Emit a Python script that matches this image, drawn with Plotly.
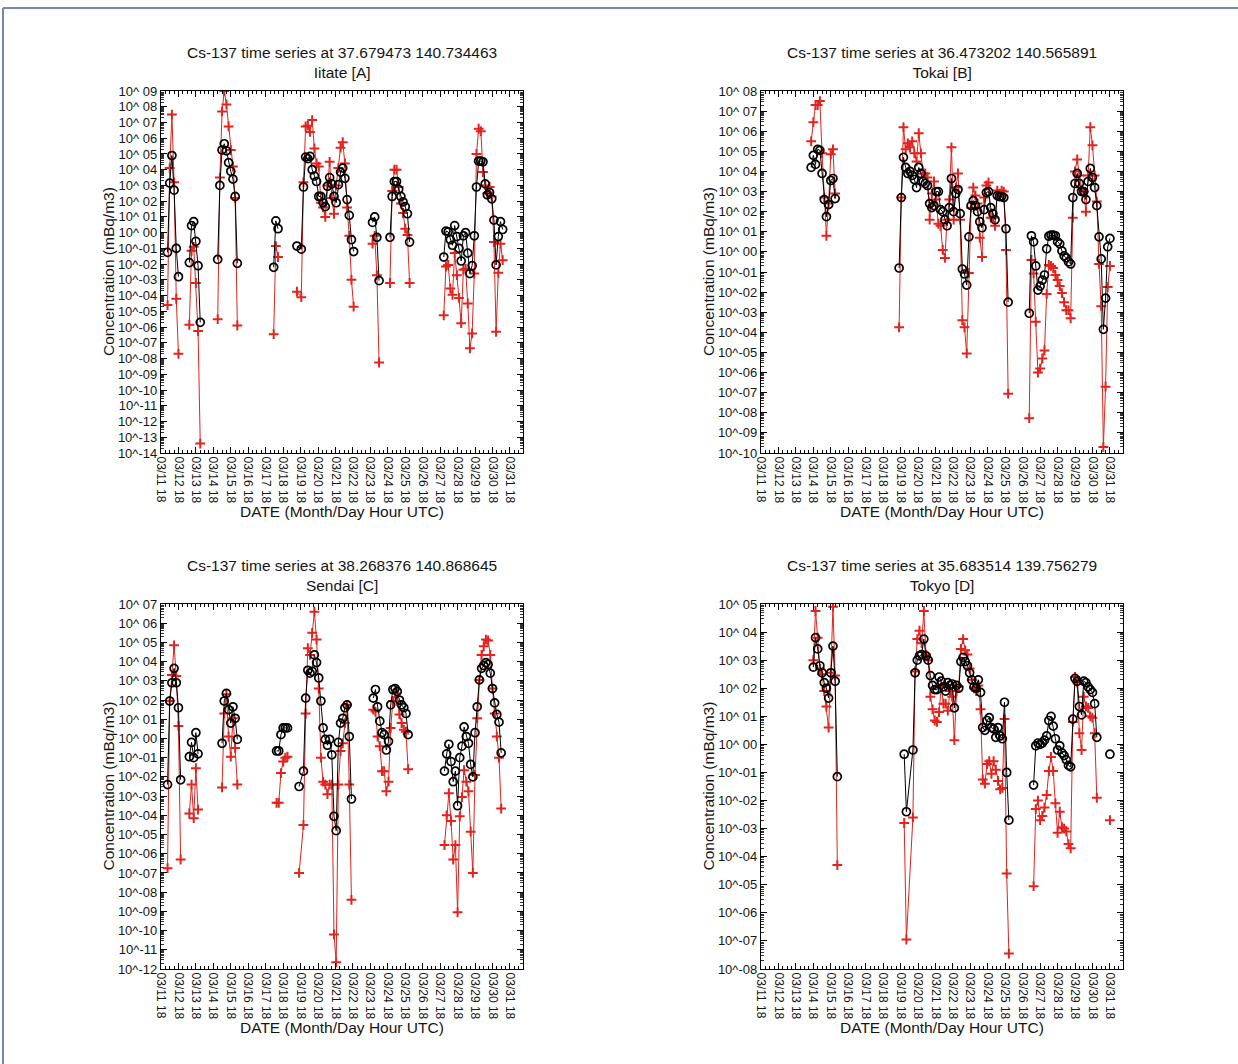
import pandas as pd
import plotly.graph_objects as go

W, H = 1238, 1064
BASE_TIME = pd.Timestamp("2011-03-11 18:00")
X_RANGE = ["2011-03-11 18:00", "2011-04-01 12:00"]
X_TITLE = "DATE (Month/Day Hour UTC)"
Y_TITLE = "Concentration (mBq/m3)"

# ---------------- Panel A : Iitate ----------------
A_TITLE = "Cs-137 time series at 37.679473 140.734463<br>Iitate [A]"
A_DECADES = [-14, 9]
A_HOURS = [
    [9, 12, 15, 18, 21, 24],
    [39, 42, 45, 48, 51, 54],
    [78, 81, 84, 87, 90, 93, 96, 99, 102, 105],
    [155, 158, 161],
    [187, 193, 196, 199, 202, 205, 208, 211, 214, 217, 220, 223, 226, 229, 232, 235, 238, 241, 244,
     247, 250, 253, 256, 259, 262, 265],
    [291, 294, 297, 300],
    [315, 318, 321, 324, 327, 330, 333, 336, 339, 342],
    [389, 392, 395, 398, 401, 404, 407, 410, 413, 416, 419, 422, 425, 428, 431, 434, 437, 440, 443,
     446, 449, 452, 455, 458, 461, 464, 467, 470],
]
A_BLACK = [
    [-1.25, 3.15, 4.9, 2.7, -1.0, -2.8],
    [-1.9, 0.45, 0.7, -0.55, -2.1, -5.7],
    [-1.7, 3.0, 5.25, 5.65, 5.2, 4.45, 3.9, 3.4, 2.3, -1.95],
    [-2.2, 0.75, 0.25],
    [-0.85, -1.05, 2.9, 4.8, 4.7, 4.85, 4.0, 3.6, 3.25, 2.3, 2.3, 1.9, 1.65, 2.95, 3.5, 3.1, 2.3, 1.9,
     3.05, 3.85, 4.1, 3.45, 2.1, 1.1, -0.45, -1.2],
    [0.65, 1.0, -0.3, -3.05],
    [-0.3, 2.3, 3.25, 3.25, 2.75, 2.3, 1.95, 1.65, 1.2, -0.6],
    [-1.55, 0.1, 0.05, -0.45, -0.8, 0.45, -0.25, -1.0, -1.8, -0.2, 0.0, -1.3, -2.6, -2.1, -0.2, 2.9,
     4.55, 4.55, 4.5, 3.1, 2.4, 2.55, 2.15, 0.8, -2.05, -0.25, 0.7, 0.2],
]
A_RED = [
    [-4.6, 4.1, 7.5, 3.2, -4.2, -7.7],
    [-5.85, -1.15, -0.9, -3.2, -6.25, -13.4],
    [-5.5, 3.5, 7.7, 9.0, 8.15, 6.75, 5.25, 4.2, 2.2, -5.9],
    [-6.45, -0.85, -1.55],
    [-3.75, -4.1, 3.2, 6.75, 6.8, 6.4, 7.15, 5.35, 4.4, 4.2, 1.9, 1.6, 1.0, 3.0, 4.5, 2.2, 1.2, 3.0,
     4.1, 5.4, 5.75, 4.4, 1.6, -0.2, -3.0, -4.7],
    [-0.7, -0.2, -2.7, -8.25],
    [-3.2, 2.65, 4.0, 4.0, 2.9, 1.85, 1.25, 0.25, -0.15, -3.2],
    [-5.25, -2.15, -2.05, -3.55, -3.95, -1.3, -2.7, -4.15, -5.75, -2.35, -2.3, -4.5, -7.35, -6.4,
     -2.6, 5.0, 6.6, 6.45, 3.85, 3.0, 2.5, 2.9, 2.3, -0.6, -6.3, -2.55, -0.7, -1.75],
]

# ---------------- Panel B : Tokai ----------------
B_TITLE = "Cs-137 time series at 36.473202 140.565891<br>Tokai [B]"
B_DECADES = [-10, 8]
B_HOURS = [
    [69, 72, 75, 78, 81, 84, 87, 90, 93, 96, 99, 102],
    [190, 193, 196, 199, 202, 205, 208, 211, 214, 217, 220, 223, 226, 229, 232, 235, 238, 241, 244,
     247, 250, 253, 256, 259, 262, 265, 268, 271, 274, 277, 280, 283, 286, 289, 292, 295, 298, 301,
     304, 307, 310, 313, 316, 319, 322, 325, 328, 331, 334, 337, 340],
    [369, 372, 375, 378, 381, 384, 387, 390, 393, 396, 399, 402, 405, 408, 411, 414, 417, 420, 423,
     426, 429, 432, 435, 438, 441, 444, 447, 450, 453, 456, 459, 462, 465, 468, 471, 474, 477, 480],
]
B_BLACK = [
    [4.2, 4.8, 4.35, 5.1, 5.05, 3.9, 2.6, 1.75, 2.35, 3.55, 3.65, 2.65],
    [-0.8, 2.7, 4.7, 4.2, 3.9, 4.0, 3.8, 3.6, 3.2, 4.2, 3.9, 3.5, 3.4, 3.3, 2.4, 2.2, 2.3, 3.0, 3.0,
     2.1, 2.0, 1.6, 1.3, 2.2, 3.65, 2.0, 2.9, 3.1, 1.9, -0.85, -1.1, -1.65, 0.75, 2.3, 2.55, 2.3,
     2.0, 1.5, 1.2, 2.1, 2.95, 3.0, 2.2, 1.9, 1.6, 2.8, 2.75, 2.75, 2.7, 1.15, -2.5],
    [-3.05, 0.8, 0.5, -0.7, -1.9, -1.7, -1.4, -1.15, 0.15, 0.78, 0.83, 0.83, 0.8, 0.5, 0.4, 0.05,
     -0.2, -0.3, -0.5, -0.6, 2.7, 3.4, 3.9, 3.4, 3.0, 3.0, 2.6, 3.5, 4.15, 3.7, 3.2, 2.3, 0.75,
     -0.35, -3.85, -2.3, 0.25, 0.67],
]
B_RED = [
    [5.5, 6.45, 7.3, 7.3, 7.5, 4.9, 2.7, 0.8, 2.4, 4.85, 5.1, 2.9],
    [-3.75, 2.7, 6.2, 5.1, 5.4, 5.2, 5.5, 4.9, 4.5, 5.9, 4.9, 3.9, 3.9, 3.7, 1.6, 2.9, 3.5, 2.6, 1.4,
     1.3, 0.1, -0.3, 1.6, 2.6, 5.2, 1.6, 3.2, 3.9, 1.6, -3.4, -3.75, -5.05, -1.05, 2.2, 3.2, 2.8,
     2.4, 0.7, -0.25, 2.7, 3.3, 3.45, 1.7, 1.7, 1.3, 3.05, 2.9, 3.05, 3.0, 0.1, -7.05],
    [-8.27, -0.4, -1.07, -3.47, -6.0, -5.8, -5.3, -4.9, -2.1, -0.65, -0.7, -0.8, -1.15, -1.4, -1.7,
     -2.05, -2.5, -2.9, -2.9, -3.3, 1.7, 4.0, 4.6, 3.8, 3.1, 3.0, 2.0, 3.8, 6.2, 5.3, 3.8, 2.5,
     -0.6, -2.7, -9.7, -6.7, -1.74, -0.7],
]

# ---------------- Panel C : Sendai ----------------
C_TITLE = "Cs-137 time series at 38.268376 140.868645<br>Sendai [C]"
C_DECADES = [-12, 7]
C_HOURS = [
    [9, 12, 15, 18, 21, 24, 27],
    [39, 42, 45, 48, 51],
    [84, 87, 90, 93, 96, 99, 102, 105],
    [159, 162, 165, 168, 171, 174],
    [190, 196, 199, 202, 205, 208, 211, 214, 217, 220, 223, 226, 229, 232, 235, 238, 241, 244, 247,
     250, 253, 256, 259, 262],
    [292, 295, 298, 301, 304, 307, 310, 313, 316, 319, 322, 325, 328, 331, 334, 337, 340],
    [390, 393, 396, 399, 402, 405, 408, 411, 414, 417, 420, 423, 426, 429, 432, 435, 438, 441, 444,
     447, 450, 453, 456, 459, 462, 465, 468],
]
C_BLACK = [
    [-2.4, 1.95, 2.9, 3.65, 2.9, 1.6, -2.15],
    [-0.95, -0.2, -1.0, 0.3, -0.8],
    [-0.25, 1.95, 2.35, 1.5, 0.8, 1.65, 1.05, -0.05],
    [-0.65, -0.65, 0.2, 0.55, 0.55, 0.55],
    [-2.5, -1.7, 2.1, 3.55, 3.4, 3.5, 4.35, 3.95, 3.15, 1.95, 0.55, -0.05, -0.35, -0.05, -0.85,
     -4.05, -4.8, -0.2, 0.8, 1.05, 1.6, 1.75, 0.1, -3.15],
    [2.1, 2.55, 1.65, 0.9, 0.3, 0.2, -0.6, -0.15, 1.75, 2.55, 2.6, 2.45, 2.0, 1.75, 1.6, 1.3, 0.2],
    [-1.7, -0.8, -0.3, -1.2, -2.25, -1.7, -3.5, -1.0, -0.4, 0.6, 0.1, -0.25, -1.35, -2.0, 0.3, 1.65,
     3.05, 3.65, 3.8, 3.95, 3.85, 3.4, 2.6, 1.85, 1.25, 0.85, -0.75],
]
C_RED = [
    [-6.75, 1.95, 3.3, 4.85, 3.25, 0.65, -6.3],
    [-3.9, -2.4, -4.15, -1.55, -3.7],
    [-2.55, 1.3, 2.3, 0.1, -0.95, 1.05, -0.5, -2.4],
    [-3.35, -3.35, -1.8, -1.2, -1.0, -0.95],
    [-7.0, -4.5, 1.3, 4.7, 4.35, 5.5, 6.6, 5.15, 2.6, -1.0, -2.25, -2.4, -2.9, -2.4, -2.4, -10.2,
     -11.65, -2.4, -0.65, -0.25, 0.8, 1.75, -2.4, -8.4],
    [1.5, 1.4, 0.1, -0.4, -1.7, -1.7, -2.75, -2.25, 0.55, 1.95, 2.35, 1.95, 1.25, 0.8, 0.45, 0.35,
     -1.6],
    [-5.55, -4.0, -2.85, -4.3, -6.3, -5.55, -9.05, -4.05, -3.05, -1.65, -2.25, -2.75, -4.85, -7.0,
     -1.9, 1.05, 3.05, 4.35, 4.8, 5.15, 5.1, 4.35, 2.6, 1.3, 0.1, -1.0, -3.65],
]

# ---------------- Panel D : Tokyo ----------------
D_TITLE = "Cs-137 time series at 35.683514 139.756279<br>Tokyo [D]"
D_DECADES = [-8, 5]
D_HOURS = [
    [72, 75, 78, 81, 84, 87, 90, 93, 96, 99, 102, 105],
    [197, 200, 209, 212, 215, 218, 221, 224, 227, 230, 233, 236, 239, 242, 245, 248, 251, 254, 257,
     260, 263, 266, 269, 272, 275, 278, 281, 284, 287, 290, 293, 296, 299, 302, 305, 308, 311, 314,
     317, 320, 323, 326, 329, 332, 335, 338, 341],
    [375, 378, 381, 384, 387, 390, 393, 396, 399, 402, 405, 408, 411, 414, 417, 420, 423, 426, 429,
     432, 435, 438, 441, 444, 447, 450, 453, 456, 459, 462],
    [480],
]
D_BLACK = [
    [2.75, 3.8, 3.4, 2.8, 2.55, 2.2, 2.0, 1.65, 2.55, 3.5, 2.25, -1.15],
    [-0.35, -2.4, -0.2, 2.55, 3.0, 3.15, 3.2, 3.75, 3.15, 3.0, 2.45, 2.1, 1.95, 1.95, 2.4, 2.25,
     2.05, 1.9, 2.2, 2.1, 2.15, 1.3, 2.1, 2.0, 2.95, 3.1, 2.95, 2.8, 2.55, 2.3, 2.05, 2.0, 2.3, 1.85,
     0.6, 0.5, 0.85, 0.95, 0.6, 0.55, 0.25, 0.6, 0.3, 0.2, 1.5, -1.0, -2.7],
    [-1.45, -0.05, 0.05, 0.0, 0.05, 0.15, 0.3, 0.85, 1.0, 0.65, 0.2, -0.2, -0.05, -0.3, -0.4, -0.55,
     -0.75, -0.8, 0.9, 2.35, 2.25, 1.35, 1.05, 2.25, 2.2, 2.05, 1.95, 1.85, 1.45, 0.25],
    [-0.35],
]
D_RED = [
    [3.0, 4.75, 3.8, 2.7, 2.5, 1.9, 1.35, 0.6, 2.55, 4.9, 2.45, -4.3],
    [-2.8, -6.95, -2.6, 2.6, 3.75, 4.05, 3.6, 4.75, 3.2, 3.0, 1.7, 1.25, 0.85, 0.8, 1.15, 2.05, 1.45,
     1.45, 1.2, 1.9, 1.7, 0.15, 1.9, 2.05, 3.4, 3.75, 3.35, 3.2, 2.7, 2.3, 2.0, 1.9, 2.1, 1.25,
     -1.25, -1.4, -0.7, -0.6, -1.05, -0.6, -0.9, -1.3, -1.6, -1.55, 0.9, -4.6, -7.45],
    [-5.05, -2.3, -2.0, -2.7, -2.55, -2.25, -1.8, -0.95, -0.45, -0.95, -2.1, -3.15, -2.4, -2.95,
     -3.0, -3.1, -3.55, -3.7, 0.8, 2.4, 2.2, 0.4, -0.2, 1.7, 1.35, 1.3, 1.0, 0.95, 0.4, -1.9],
    [-2.7],
]

PANELS = [
    dict(title=A_TITLE, dec=A_DECADES, hours=A_HOURS, black=A_BLACK, red=A_RED,
         px=(161, 523), py=(91, 453)),
    dict(title=B_TITLE, dec=B_DECADES, hours=B_HOURS, black=B_BLACK, red=B_RED,
         px=(761, 1123), py=(91, 453)),
    dict(title=C_TITLE, dec=C_DECADES, hours=C_HOURS, black=C_BLACK, red=C_RED,
         px=(161, 523), py=(604, 969)),
    dict(title=D_TITLE, dec=D_DECADES, hours=D_HOURS, black=D_BLACK, red=D_RED,
         px=(761, 1123), py=(604, 969)),
]

RED = "#e2231e"
FONT = "Liberation Sans, Arial, Helvetica, sans-serif"
TEXT = "#151515"


def join_groups(groups, conv):
    out = []
    for i, g in enumerate(groups):
        if i:
            out.append(None)
        out.extend(conv(v) for v in g)
    return out


def to_time(h):
    return BASE_TIME + pd.Timedelta(hours=h)


def to_val(e):
    return 10 ** e


def ylabel(k):
    return f"10^ {k:02d}" if k >= 0 else f"10^-{-k:02d}"


fig = go.Figure()
annotations = []
layout = {}

for i, p in enumerate(PANELS, start=1):
    xa = "x" if i == 1 else f"x{i}"
    ya = "y" if i == 1 else f"y{i}"
    xs = join_groups(p["hours"], to_time)
    fig.add_trace(go.Scatter(
        x=xs, y=join_groups(p["red"], to_val), xaxis=xa, yaxis=ya, mode="lines+markers",
        line=dict(color=RED, width=1), connectgaps=False, showlegend=False,
        marker=dict(symbol="cross-thin", size=7, color=RED, line=dict(color=RED, width=2))))
    fig.add_trace(go.Scatter(
        x=xs, y=join_groups(p["black"], to_val), xaxis=xa, yaxis=ya, mode="lines+markers",
        line=dict(color="black", width=1), connectgaps=False, showlegend=False,
        marker=dict(symbol="circle-open", size=8, color="black", line=dict(color="black", width=1.7))))

    lo, hi = p["dec"]
    exps = list(range(lo, hi + 1))
    minor_vals = [m * 10 ** k for k in range(lo, hi) for m in range(2, 10)]
    x0, x1 = p["px"]
    y0, y1 = p["py"]
    xkey = "xaxis" if i == 1 else f"xaxis{i}"
    ykey = "yaxis" if i == 1 else f"yaxis{i}"
    layout[xkey] = dict(
        domain=[x0 / W, x1 / W], anchor=ya, type="date", range=X_RANGE,
        tick0="2011-03-11 18:00", dtick=86400000, tickformat="%m/%d %H", tickangle=90,
        ticks="inside", ticklen=6, tickwidth=1, tickcolor="black",
        minor=dict(ticks="inside", ticklen=3, tickwidth=1, tickcolor="black",
                   dtick=6 * 3600000, tick0="2011-03-11 18:00", showgrid=False),
        showline=True, linecolor="black", linewidth=1.3, mirror="allticks",
        showgrid=False, zeroline=False, automargin=False,
        tickfont=dict(family=FONT, size=12, color=TEXT))
    layout[ykey] = dict(
        domain=[1 - y1 / H, 1 - y0 / H], anchor=xa, type="log", range=[lo, hi],
        tickmode="array", tickvals=[10 ** k for k in exps], ticktext=[ylabel(k) for k in exps],
        ticks="inside", ticklen=6, tickwidth=1, tickcolor="black",
        minor=dict(ticks="inside", ticklen=3, tickwidth=0.8, tickcolor="#333",
                   tickvals=minor_vals, showgrid=False),
        showline=True, linecolor="black", linewidth=1.3, mirror="allticks",
        showgrid=False, zeroline=False, automargin=False,
        tickfont=dict(family=FONT, size=13, color=TEXT))

    cx = (x0 + x1) / 2 / W
    annotations.append(dict(text=p["title"], x=cx, y=1 - (y0 - 29) / H, xref="paper", yref="paper",
                            xanchor="center", yanchor="middle", showarrow=False,
                            font=dict(family=FONT, size=15.5, color=TEXT)))
    annotations.append(dict(text=X_TITLE, x=cx, y=1 - (y1 + 58) / H, xref="paper", yref="paper",
                            xanchor="center", yanchor="middle", showarrow=False,
                            font=dict(family=FONT, size=15.5, color=TEXT)))
    annotations.append(dict(text=Y_TITLE, x=(x0 - 53) / W, y=1 - (y0 + y1) / 2 / H, xref="paper",
                            yref="paper", xanchor="center", yanchor="middle", textangle=-90,
                            showarrow=False, font=dict(family=FONT, size=15.5, color=TEXT)))

BORDER = "#7089b0"
shapes = [
    dict(type="line", xref="paper", yref="paper", x0=3 / W, x1=1, y0=1 - 8 / H, y1=1 - 8 / H,
         line=dict(color=BORDER, width=2)),
    dict(type="line", xref="paper", yref="paper", x0=3 / W, x1=3 / W, y0=0, y1=1 - 8 / H,
         line=dict(color=BORDER, width=2)),
]

fig.update_layout(
    width=W, height=H, template="none", margin=dict(l=0, r=0, t=0, b=0, autoexpand=False),
    paper_bgcolor="white", plot_bgcolor="white", showlegend=False,
    annotations=annotations, shapes=shapes, **layout)

fig.write_html("out.html")
